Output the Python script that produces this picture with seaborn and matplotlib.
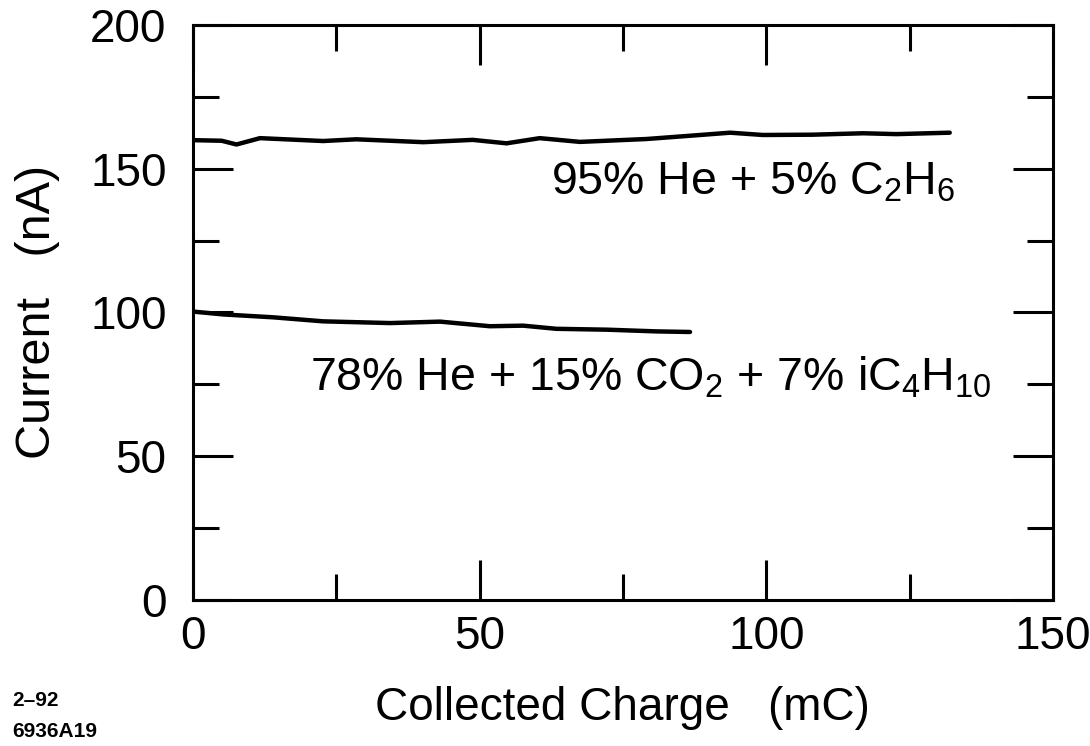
import numpy as np
import pandas as pd
import matplotlib
matplotlib.use("Agg")
import matplotlib.pyplot as plt
import seaborn as sns
from matplotlib.ticker import MultipleLocator

# Current vs. collected charge for two gas mixtures
he_ethane_charge = [0.0, 5.0, 7.6, 11.7, 22.7, 28.5, 40.2, 48.8, 54.7, 60.5, 67.5,
                    79.1, 87.8, 93.7, 99.4, 108.1, 116.9, 122.7, 132.0]
he_ethane_current = [159.9, 159.7, 158.4, 160.6, 159.6, 160.2, 159.2, 160.0, 158.8,
                     160.6, 159.3, 160.3, 161.6, 162.5, 161.7, 161.8, 162.3, 162.0, 162.5]

he_co2_charge = [0.0, 5.3, 14.0, 22.7, 34.4, 43.1, 51.8, 57.6, 63.4, 72.2, 80.9, 86.7]
he_co2_current = [100.3, 99.3, 98.3, 96.9, 96.3, 96.8, 95.2, 95.4, 94.3, 94.0, 93.4, 93.2]

mixtures = ["95% He + 5% C$_2$H$_6$",
            "78% He + 15% CO$_2$ + 7% iC$_4$H$_{10}$"]

x_ticks = [0, 50, 100, 150]
y_ticks = [0, 50, 100, 150, 200]

df = pd.concat([
    pd.DataFrame({"charge": he_ethane_charge, "current": he_ethane_current,
                  "mix": mixtures[0]}),
    pd.DataFrame({"charge": he_co2_charge, "current": he_co2_current,
                  "mix": mixtures[1]}),
])

sns.set_style("ticks")
plt.rcParams["font.family"] = ["Liberation Sans", "DejaVu Sans"]
plt.rcParams["mathtext.fontset"] = "custom"
plt.rcParams["mathtext.rm"] = "Liberation Sans"
plt.rcParams["mathtext.it"] = "Liberation Sans"
plt.rcParams["text.color"] = "black"
plt.rcParams["axes.labelcolor"] = "black"
plt.rcParams["xtick.color"] = "black"
plt.rcParams["ytick.color"] = "black"

fig = plt.figure(figsize=(10.9, 7.46), dpi=100)
ax = fig.add_axes([0.177, 0.1957, 0.789, 0.771])

sns.lineplot(data=df, x="charge", y="current", units="mix", estimator=None,
             color="black", linewidth=3.2, sort=False, ax=ax, legend=False)

ax.set_xlim(0, 150)
ax.set_ylim(0, 200)
ax.set_xticks(x_ticks)
ax.set_yticks(y_ticks)
ax.xaxis.set_minor_locator(MultipleLocator(25))
ax.yaxis.set_minor_locator(MultipleLocator(25))
ax.tick_params(which="both", direction="in", top=True, right=True,
               width=2.2, color="black")
ax.tick_params(which="major", length=29)
ax.tick_params(which="minor", length=19)
ax.tick_params(axis="x", which="major", labelsize=33, labelcolor="black", pad=11)
ax.tick_params(axis="y", which="major", labelsize=33, labelcolor="black", pad=19)
for sp in ax.spines.values():
    sp.set_linewidth(2.2)
    sp.set_color("black")

ax.set_xlabel("Collected Charge   (mC)", fontsize=33)
ax.set_ylabel("Current   (nA)", fontsize=35)
ax.xaxis.set_label_coords(0.5, -0.15)
ax.yaxis.set_label_coords(-0.155, 0.5)

ax.text(62.4, 141.0, mixtures[0], fontsize=33.5, va="baseline", ha="left")
ax.text(20.5, 73.0, mixtures[1], fontsize=33.5, va="baseline", ha="left")

fig.text(0.011, 0.054, "2\u201392", fontsize=15, fontweight="bold", ha="left")
fig.text(0.011, 0.012, "6936A19", fontsize=15, fontweight="bold", ha="left")

fig.savefig("out.png", dpi=100)
